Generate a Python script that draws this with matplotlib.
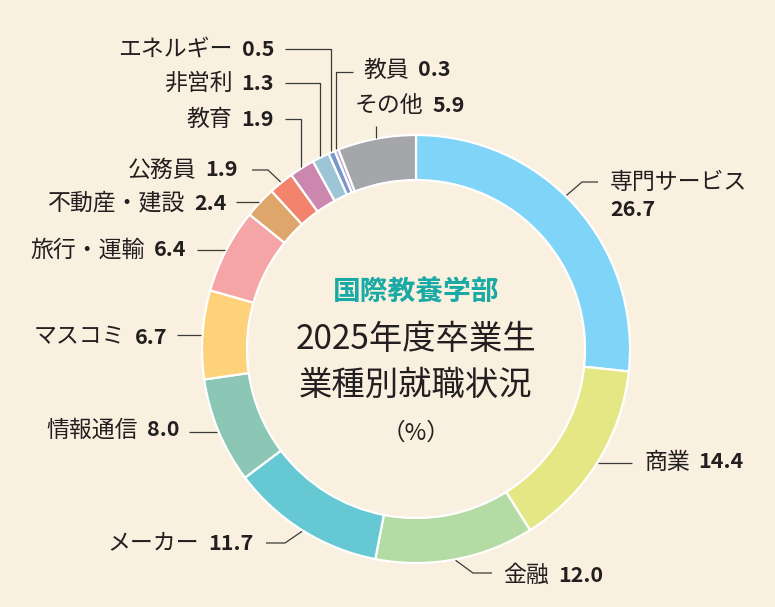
import matplotlib.pyplot as plt
import numpy as np

plt.rcParams['font.family'] = ['Noto Sans CJK JP', 'DejaVu Sans']

W, H = 775, 607

# data (clockwise from 12 o'clock)
categories = ['専門サービス', '商業', '金融', 'メーカー', '情報通信', 'マスコミ', '旅行・運輸',
              '不動産・建設', '公務員', '教育', '非営利', 'エネルギー', '教員', 'その他']
values = [26.7, 14.4, 12.0, 11.7, 8.0, 6.7, 6.4, 2.4, 1.9, 1.9, 1.3, 0.5, 0.3, 5.9]
value_labels = ['26.7', '14.4', '12.0', '11.7', '8.0', '6.7', '6.4',
                '2.4', '1.9', '1.9', '1.3', '0.5', '0.3', '5.9']
colors = ['#7fd4f7', '#e5e784', '#b4dba3', '#65c8d2', '#8bc7b4', '#fed27b', '#f6a5a7',
          '#dea66a', '#f3836d', '#cc87af', '#9ec5d6', '#7b96c9', '#b9a6d6', '#a4a6aa']

title_lines = ['国際教養学部', '2025年度卒業生', '業種別就職状況', '（%）']

BG = '#faf0df'
INK = '#231f20'
TEAL = '#19aaa5'

# ring geometry in pixels
cx, cy = 416, 349
r_out, ring_w = 214, 45

# label layout: side, text x, text y, leader points (None -> anchor coordinate)
layout = {
    '専門サービス': ('R2', 610, 182, [(598, 182), (582, 182)]),
    '商業': ('R', 644, 462, [(632, None)]),
    '金融': ('R', 503, 575, [(492, 573), (473, 573)]),
    'メーカー': ('L', 253, 543, [(266, 543), (285, 543)]),
    '情報通信': ('L', 179, 430, [(189, None)]),
    'マスコミ': ('L', 167, 337, [(177, None)]),
    '旅行・運輸': ('L', 186, 250, [(197, None)]),
    '不動産・建設': ('L', 227, 203, [(236, None)]),
    '公務員': ('L', 238, 170, [(252, 170), (268, 170)]),
    '教育': ('L', 274, 119, [(285, 119), (None, 119)]),
    '非営利': ('L', 274, 83, [(285, 83), (None, 83)]),
    'エネルギー': ('L', 274, 49, [(285, 49), (None, 49)]),
    '教員': ('R', 363, 70, [(353, 72), (None, 72)]),
    'その他': ('R', 355, 105, [(None, 126)]),
}
angle_shift = {'専門サービス': -3.6}

NAME_FS = 16.5
NUM_FS = 15.5


def P(y):
    return H - y


fig = plt.figure(figsize=(W / 100, H / 100), dpi=100, facecolor=BG)
ax = fig.add_axes([0, 0, 1, 1])
ax.set_facecolor(BG)

ax.pie(values, colors=colors, startangle=90, counterclock=False,
       center=(cx, P(cy)), radius=r_out,
       wedgeprops=dict(width=ring_w, edgecolor='white', linewidth=1.6))
ax.set_xlim(0, W)
ax.set_ylim(0, H)
ax.set_aspect('equal')
ax.axis('off')

# center title
ax.text(cx, P(293), title_lines[0], ha='center', va='center', fontsize=20,
        fontweight='bold', color=TEAL)
ax.text(cx, P(340), title_lines[1], ha='center', va='center', fontsize=24, color=INK)
ax.text(cx, P(385), title_lines[2], ha='center', va='center', fontsize=24, color=INK)
ax.text(cx, P(433), title_lines[3], ha='center', va='center', fontsize=17, color=INK)

renderer = fig.canvas.get_renderer()
total = sum(values)
cum = np.cumsum([0] + values)
gap = 9

for i, name in enumerate(categories):
    side, tx, ty, pts = layout[name]
    # leader anchor on outer edge at wedge middle
    mid = (cum[i] + values[i] / 2) / total * 360 + angle_shift.get(name, 0)
    ax_x = cx + (r_out + 1) * np.sin(np.radians(mid))
    ax_y = cy - (r_out + 1) * np.cos(np.radians(mid))
    path = [(ax_x if x is None else x, ax_y if y is None else y) for x, y in pts]
    path.append((ax_x, ax_y))
    xs, ys = zip(*path)
    ax.plot(xs, [P(v) for v in ys], color='#3a3a3a', lw=0.9, solid_capstyle='butt')

    if side == 'L':
        t = ax.text(tx, P(ty), value_labels[i], ha='right', va='center', fontsize=NUM_FS,
                    fontweight='bold', color=INK)
        w = t.get_window_extent(renderer).width
        ax.text(tx - w - gap, P(ty), name, ha='right', va='center', fontsize=NAME_FS, color=INK)
    elif side == 'R':
        t = ax.text(tx, P(ty), name, ha='left', va='center', fontsize=NAME_FS, color=INK)
        w = t.get_window_extent(renderer).width
        ax.text(tx + w + gap, P(ty), value_labels[i], ha='left', va='center', fontsize=NUM_FS,
                fontweight='bold', color=INK)
    else:
        ax.text(tx, P(ty), name, ha='left', va='center', fontsize=NAME_FS, color=INK)
        ax.text(tx, P(ty + 28), value_labels[i], ha='left', va='center', fontsize=NUM_FS,
                fontweight='bold', color=INK)

fig.savefig('out.png', dpi=100, facecolor=BG)
